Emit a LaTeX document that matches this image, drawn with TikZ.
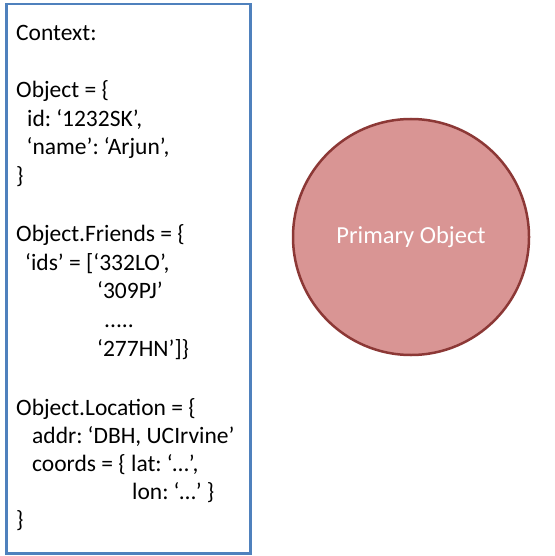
\documentclass[tikz,border=0pt]{standalone}
\usepackage{fontspec}
\setmainfont{Carlito}
\definecolor{boxblue}{HTML}{4F81BD}
\definecolor{circfill}{HTML}{D99594}
\definecolor{circline}{HTML}{8C3836}
\begin{document}
\begin{tikzpicture}[x=1pt,y=-1pt,
  txt/.style={anchor=base west, inner sep=0pt, font=\fontsize{23.5}{28}\selectfont},
  ctxbox/.style={draw=boxblue, line width=2.5pt},
  primary/.style={circle, draw=circline, fill=circfill, line width=2.5pt, minimum size=236pt, inner sep=0pt, text=white, font=\fontsize{24.5}{28}\selectfont}]
\useasboundingbox (0,0) rectangle (554,556);
\node[ctxbox, rectangle, minimum width=244pt, minimum height=549pt, anchor=north west, inner sep=0pt] (ctx) at (5,3) {};
\node[primary] (prim) at (411,237) {Primary Object};
\node[txt] (l0) at (16,40.5) {Context:};
\node[txt] (l2) at (16,98) {Object = \{};
\node[txt] (l3) at (27,126.5) {id:\hspace{-2pt} ‘1232SK’,};
\node[txt] (l4) at (26.5,155) {‘name’:\hspace{-2pt} ‘Arjun’,};
\node[txt] (l5) at (16,183.5) {\}};
\node[txt] (l7) at (16,241.5) {Object.Friends = \{};
\node[txt] (l8) at (25,270) {‘ids’ = [‘332LO’,};
\node[txt] (l9) at (97,298.3) {‘309PJ’};
\node[txt] (l10) at (104,327) {.....};
\node[txt] (l11) at (97,356) {‘277HN’]\}};
\node[txt] (l13) at (16,415) {Object.Location = \{};
\node[txt] (l14) at (32,443) {addr:\hspace{-2pt} ‘DBH, UCIrvine’};
\node[txt] (l15) at (32,471) {coords = \{ lat:\hspace{-2pt} ‘…’,};
\node[txt] (l16) at (132,499) {lon:\hspace{-2pt} ‘…’ \}};
\node[txt] (l17) at (16,527) {\}};
\end{tikzpicture}
\end{document}
